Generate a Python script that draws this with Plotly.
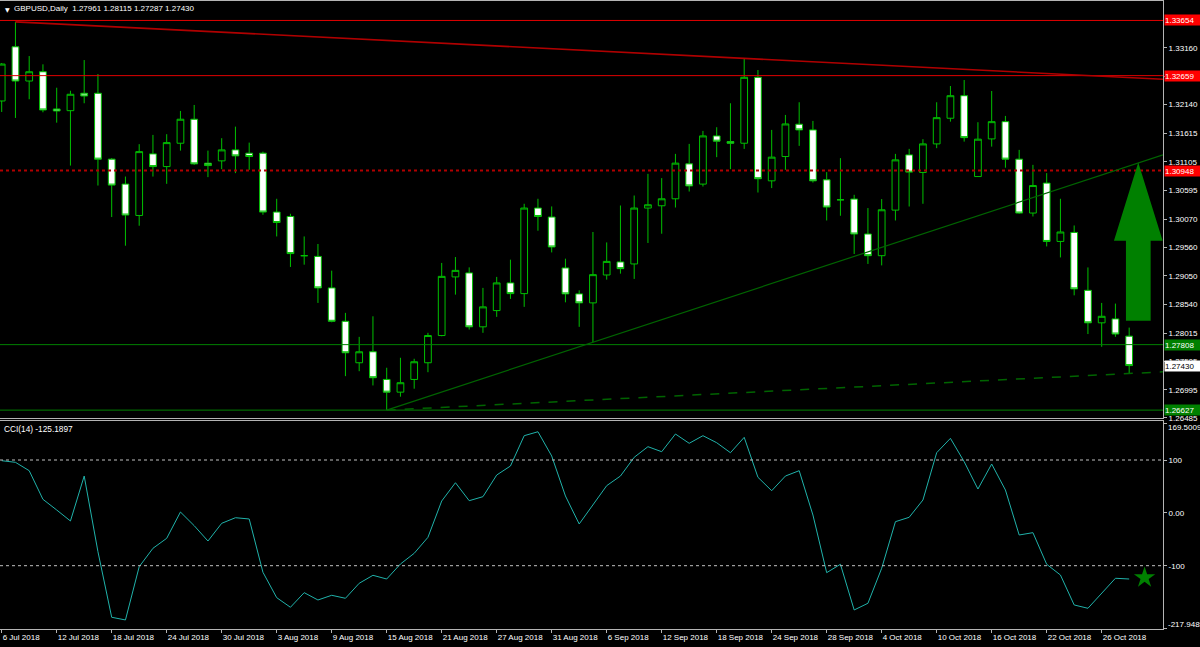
import plotly.graph_objects as go
import pandas as pd

# ---------------- data ----------------
dates = pd.bdate_range("2018-07-06", "2018-10-30")

opens = [1.32202, 1.33179, 1.32562, 1.32729, 1.32058, 1.32027, 1.32341, 1.32341, 1.31153, 1.30703,
         1.30137, 1.31248, 1.31019, 1.31440, 1.31873, 1.31080, 1.31122, 1.31320, 1.31260, 1.31261,
         1.30199, 1.30119, 1.29412, 1.29399, 1.28831, 1.28229, 1.27481, 1.27679, 1.27180, 1.26951,
         1.27180, 1.27481, 1.27972, 1.29029, 1.29101, 1.28129, 1.28422, 1.28921, 1.28728, 1.30271,
         1.30109, 1.29191, 1.28723, 1.28561, 1.29064, 1.29299, 1.29263, 1.30271, 1.30312, 1.30438,
         1.31068, 1.30703, 1.31572, 1.31469, 1.31440, 1.32629, 1.30762, 1.31200, 1.31783, 1.31680,
         1.30780, 1.30420, 1.30433, 1.29803, 1.29412, 1.30234, 1.31230, 1.30913, 1.31428, 1.31891,
         1.32297, 1.30839, 1.31518, 1.31829, 1.31153, 1.30181, 1.30721, 1.29669, 1.29831, 1.28787,
         1.28201, 1.28272, 1.27961]
highs = [1.32886, 1.33629, 1.33012, 1.32863, 1.32441, 1.32387, 1.32940, 1.32688, 1.31171, 1.30839,
         1.31423, 1.31590, 1.31603, 1.32022, 1.32130, 1.31307, 1.31531, 1.31739, 1.31451, 1.31289,
         1.30438, 1.30168, 1.29759, 1.29623, 1.29142, 1.28381, 1.27948, 1.28319, 1.27391, 1.27571,
         1.27553, 1.28021, 1.29281, 1.29388, 1.29201, 1.28831, 1.29029, 1.29340, 1.30348, 1.30438,
         1.30300, 1.29358, 1.28787, 1.29839, 1.29651, 1.30317, 1.30497, 1.30888, 1.30811, 1.31248,
         1.31428, 1.31662, 1.31729, 1.32161, 1.32971, 1.32760, 1.31680, 1.31950, 1.32179, 1.31842,
         1.30919, 1.31171, 1.30510, 1.30271, 1.30433, 1.31248, 1.31338, 1.31513, 1.32179, 1.32472,
         1.32580, 1.31819, 1.32382, 1.31932, 1.31320, 1.31050, 1.30901, 1.30438, 1.29957, 1.29200,
         1.28560, 1.28548, 1.28115]
lows = [1.32004, 1.31896, 1.32233, 1.31998, 1.31811, 1.31037, 1.32161, 1.30677, 1.30109, 1.29592,
        1.29952, 1.30839, 1.30708, 1.31307, 1.31050, 1.30829, 1.30973, 1.30901, 1.30960, 1.30150,
        1.29759, 1.29209, 1.29250, 1.28560, 1.28211, 1.27240, 1.27329, 1.27072, 1.26627, 1.26869,
        1.27013, 1.27311, 1.27959, 1.28710, 1.28080, 1.28021, 1.28309, 1.28633, 1.28489, 1.29862,
        1.29471, 1.28571, 1.28129, 1.27850, 1.28980, 1.29088, 1.28993, 1.29641, 1.29808, 1.30281,
        1.30569, 1.30659, 1.31189, 1.30973, 1.31338, 1.30551, 1.30631, 1.30960, 1.31392, 1.30731,
        1.30047, 1.30132, 1.29443, 1.29263, 1.29237, 1.30047, 1.30299, 1.30348, 1.31351, 1.31829,
        1.31469, 1.30839, 1.31379, 1.30999, 1.30168, 1.30119, 1.29579, 1.29381, 1.28697, 1.27999,
        1.27769, 1.27949, 1.27287]
closes = [1.32868, 1.32562, 1.32729, 1.32040, 1.32022, 1.32323, 1.32292, 1.31153, 1.30685, 1.30145,
          1.31289, 1.31019, 1.31451, 1.31873, 1.31068, 1.31037, 1.31320, 1.31212, 1.31200, 1.30199,
          1.30011, 1.29450, 1.29412, 1.28831, 1.28229, 1.27661, 1.27679, 1.27211, 1.26951, 1.27121,
          1.27499, 1.27972, 1.29039, 1.29147, 1.28129, 1.28489, 1.28921, 1.28728, 1.30271, 1.30119,
          1.29569, 1.28723, 1.28561, 1.29070, 1.29309, 1.29178, 1.30271, 1.30330, 1.30438, 1.31081,
          1.30670, 1.31572, 1.31477, 1.31440, 1.32629, 1.30800, 1.31189, 1.31788, 1.31680, 1.30762,
          1.30289, 1.30420, 1.29803, 1.29412, 1.30240, 1.31140, 1.30919, 1.31428, 1.31901, 1.32297,
          1.31541, 1.31513, 1.31829, 1.31153, 1.30181, 1.30677, 1.29669, 1.29839, 1.28813, 1.28201,
          1.28319, 1.27999, 1.27430]

cci = [98.7, 95.6, 79.8, 25.6, 5.4, -15.4, 69.7, -73.5, -197.6, -202.7,
       -101.9, -67.1, -48.2, 1.6, -24.3, -53.3, -19.8, -9.2, -11.6, -112.5,
       -160.5, -178.7, -151.0, -164.9, -156.0, -161.7, -133.3, -118.2, -125.2, -96.8,
       -76.6, -46.3, 22.4, 57.0, 23.0, 30.6, 71.6, 88.6, 146.0, 153.5,
       107.6, 31.9, -21.1, 14.9, 51.4, 69.7, 105.1, 125.2, 115.7, 149.2,
       131.6, 146.0, 132.7, 113.8, 142.9, 67.3, 41.9, 69.7, 79.8, -4.1,
       -113.2, -97.3, -183.8, -171.1, -104.9, -16.7, -8.4, 24.3, 113.8, 141.0,
       96.8, 45.1, 92.4, 43.2, -41.9, -37.5, -97.3, -117.6, -174.3, -180.6,
       -152.2, -123.8, -125.1897]

price_ticks = [1.33160, 1.32650, 1.32140, 1.31615, 1.31105, 1.30595, 1.30070,
               1.29560, 1.29050, 1.28540, 1.28015, 1.27505, 1.26995, 1.26485]
cci_ticks = [169.5009, 100, 0, -100, -217.9489]
cci_tick_text = ["", "100", "0.00", "-100", ""]
cci_scale_max = 169.5009
cci_scale_min = -217.9489
cci_levels = [100, -100]

red_levels = [1.33654, 1.32659]       # solid red horizontal lines
red_dotted_level = 1.30948            # dotted red horizontal line
green_levels = [1.27808, 1.26627]     # green horizontal lines

# trend lines: anchored on (bar index, price) pairs
red_trend = [(1, highs[1]), (54, highs[54])]
green_trend = [(28, lows[28]), (43, lows[43])]
green_dashed = [(28, lows[28]), (82, lows[82])]

arrow_tip = (82.66, 1.31093)          # tip of big up arrow
star_pos = (83.12, -122.5)            # green star in CCI pane

# ---------------- figure ----------------
x = list(range(len(dates)))
xr = [-0.124, 84.46]
tick_idx = list(range(0, len(dates), 4))
tick_text = [f"{dates[i].day} {dates[i].strftime('%b %Y')}" for i in tick_idx]

FONT = "Liberation Sans, Arial, sans-serif"
WHITE = "#ffffff"
FRAME = "#b4b4b4"
CANDLE = "#00c000"

fig = go.Figure()
fig.add_trace(go.Candlestick(
    x=x, open=opens, high=highs, low=lows, close=closes,
    increasing=dict(line=dict(color=CANDLE, width=1), fillcolor="#000000"),
    decreasing=dict(line=dict(color=CANDLE, width=1), fillcolor="#ffffff"),
    whiskerwidth=0, hoverinfo="skip", xaxis="x", yaxis="y"))

fig.add_trace(go.Scatter(x=x, y=cci, mode="lines",
                         line=dict(color="#20b2aa", width=1),
                         hoverinfo="skip", xaxis="x2", yaxis="y2"))
fig.add_trace(go.Scatter(x=[star_pos[0]], y=[star_pos[1]], mode="markers",
                         marker=dict(symbol="star", size=16, color="#008000",
                                     line=dict(width=0)),
                         hoverinfo="skip", xaxis="x2", yaxis="y2", cliponaxis=False))


def ray(p0, p1, xend):
    (i0, v0), (i1, v1) = p0, p1
    slope = (v1 - v0) / (i1 - i0)
    return dict(x0=i0, y0=v0, x1=xend, y1=v0 + slope * (xend - i0))


shapes = []
for lv in red_levels:
    shapes.append(dict(type="line", xref="x domain", yref="y", x0=0, x1=1, y0=lv, y1=lv,
                       line=dict(color="#e00000", width=1)))
shapes.append(dict(type="line", xref="x domain", yref="y", x0=0, x1=1,
                   y0=red_dotted_level, y1=red_dotted_level,
                   line=dict(color="#b00000", width=2, dash="dot")))
for lv in green_levels:
    shapes.append(dict(type="line", xref="x domain", yref="y", x0=0, x1=1, y0=lv, y1=lv,
                       line=dict(color="#008000", width=1)))
shapes.append(dict(type="line", xref="x", yref="y", line=dict(color="#b00000", width=1.6),
                   **ray(*red_trend, xr[1])))
shapes.append(dict(type="line", xref="x", yref="y", line=dict(color="#006400", width=1.2),
                   **ray(*green_trend, xr[1])))
shapes.append(dict(type="line", xref="x", yref="y", line=dict(color="#006400", width=1.5, dash="dash"),
                   **ray(*green_dashed, xr[1])))
# big up arrow (pixel-sized, anchored at its tip)
shapes.append(dict(type="path", xref="x", yref="y", xsizemode="pixel", ysizemode="pixel",
                   xanchor=arrow_tip[0], yanchor=arrow_tip[1],
                   path="M 0 0 L 24.4 -78.4 L 12.4 -78.4 L 12.4 -158.4 L -12.3 -158.4 "
                        "L -12.3 -78.4 L -24.3 -78.4 Z",
                   fillcolor="#008000", line=dict(width=0)))
for lv in cci_levels:
    shapes.append(dict(type="line", xref="x2 domain", yref="y2", x0=0, x1=1, y0=lv, y1=lv,
                       line=dict(color="#c0c0c0", width=1, dash="dot")))

annotations = []
def price_label(level, bg, fg):
    return dict(xref="paper", x=1, xanchor="left", xshift=1, yref="y", y=level,
                yanchor="middle", text=f"{level:.5f}", showarrow=False,
                bgcolor=bg, font=dict(family=FONT, size=8, color=fg),
                width=40, height=10, align="left", borderpad=0)

for lv in red_levels:
    annotations.append(price_label(lv, "#ff0000", WHITE))
annotations.append(price_label(red_dotted_level, "#ff0000", WHITE))
for lv in green_levels:
    annotations.append(price_label(lv, "#008000", WHITE))
annotations.append(price_label(closes[-1], "#ffffff", "#000000"))

# CCI scale extremes (drawn slightly inside the pane, as MT4 does)
annotations.append(dict(xref="paper", x=1, xanchor="left", xshift=3, yref="y2",
                        y=cci_scale_max, yanchor="middle", yshift=-4, showarrow=False,
                        text=f"{cci_scale_max:.4f}", font=dict(family=FONT, size=8, color=WHITE)))
annotations.append(dict(xref="paper", x=1, xanchor="left", xshift=3, yref="y2",
                        y=cci_scale_min, yanchor="middle", yshift=4, showarrow=False,
                        text=f"{cci_scale_min:.4f}", font=dict(family=FONT, size=8, color=WHITE)))

annotations.append(dict(xref="paper", yref="paper", x=0, y=1, xanchor="left", yanchor="top",
                        xshift=3, yshift=-3, showarrow=False, text="▼",
                        font=dict(family="DejaVu Sans", size=6, color=WHITE)))
annotations.append(dict(xref="paper", yref="paper", x=0, y=1, xanchor="left", yanchor="top",
                        xshift=12, yshift=-1, showarrow=False,
                        text=(f"GBPUSD,Daily  {opens[-1]:.5f} {highs[-1]:.5f} "
                              f"{lows[-1]:.5f} {closes[-1]:.5f}"),
                        font=dict(family=FONT, size=8, color=WHITE)))
annotations.append(dict(xref="paper", yref="y2 domain", x=0, y=1, xanchor="left", yanchor="top",
                        xshift=2, yshift=-1, showarrow=False,
                        text=f"CCI(14) {cci[-1]:.4f}",
                        font=dict(family=FONT, size=8.3, color=WHITE)))

axis_common = dict(showgrid=False, zeroline=False, showline=True, mirror=True,
                   linecolor=FRAME, linewidth=1, tickcolor=FRAME,
                   tickfont=dict(family=FONT, size=8, color=WHITE), automargin=False)

fig.update_layout(
    width=1200, height=647, margin=dict(l=0, r=37, t=1, b=18),
    paper_bgcolor="#000000", plot_bgcolor="#000000", showlegend=False,
    shapes=shapes, annotations=annotations,
    xaxis=dict(domain=[0, 1], anchor="y", range=xr, showticklabels=False, ticks="",
               rangeslider=dict(visible=False), **axis_common),
    yaxis=dict(domain=[0.336, 1], anchor="x", side="right", range=[1.26485, 1.34005],
               tickvals=price_ticks, tickformat=".5f", ticks="outside", ticklen=3,
               **axis_common),
    xaxis2=dict(domain=[0, 1], anchor="y2", matches="x", range=xr,
                tickvals=tick_idx, ticktext=tick_text, ticks="outside", ticklen=3,
                ticklabelposition="outside right", **axis_common),
    yaxis2=dict(domain=[0, 0.3312], anchor="x2", side="right", range=[-219.8, 173.8],
                tickvals=cci_ticks, ticktext=cci_tick_text, ticks="outside", ticklen=3,
                **axis_common),
)

fig.write_html("out.html", config={"displayModeBar": False},
               post_script="document.body.style.margin='0px';"
                           "document.body.style.background='#000000';")
